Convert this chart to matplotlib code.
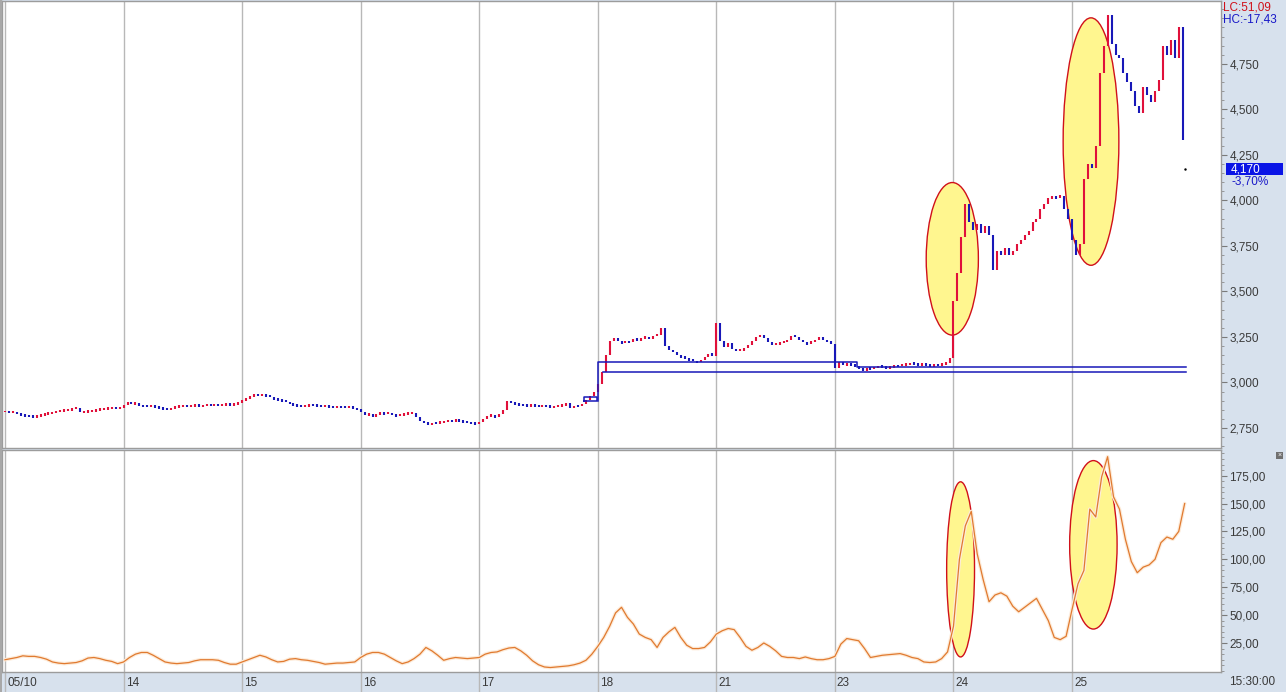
import numpy as np
import matplotlib.pyplot as plt
import matplotlib.transforms as mtransforms
from matplotlib.patches import Ellipse, Rectangle
from matplotlib.ticker import MultipleLocator, FixedLocator, FuncFormatter

W, H = 1286, 692

# session labels (one unit on the x axis = one session)
day_labels = ['05/10', '14', '15', '16', '17', '18', '21', '23', '24', '25']
bars_per_day = 30
osc_per_day = 20

# closing prices, 30 bars per session
close_0510 = [2840, 2835, 2838, 2830, 2822, 2818, 2815, 2812, 2818, 2822, 2828, 2832, 2835, 2840, 2845,
              2848, 2850, 2855, 2862, 2835, 2838, 2842, 2845, 2850, 2855, 2856, 2858, 2860, 2858, 2862]
close_14 = [2875, 2895, 2882, 2885, 2872, 2870, 2868, 2872, 2866, 2860, 2855, 2852, 2860, 2866, 2870,
            2872, 2868, 2872, 2875, 2870, 2873, 2876, 2874, 2878, 2875, 2878, 2880, 2876, 2882, 2885]
close_15 = [2905, 2915, 2925, 2930, 2928, 2936, 2925, 2918, 2910, 2905, 2900, 2895, 2885, 2875, 2870,
            2868, 2872, 2876, 2874, 2870, 2868, 2872, 2866, 2865, 2868, 2864, 2862, 2866, 2860, 2852]
close_16 = [2835, 2822, 2826, 2818, 2828, 2830, 2825, 2832, 2820, 2815, 2822, 2826, 2830, 2832, 2810,
            2790, 2778, 2772, 2780, 2776, 2782, 2786, 2790, 2786, 2792, 2788, 2784, 2780, 2776, 2772]
close_17 = [2785, 2800, 2815, 2820, 2812, 2825, 2848, 2900, 2885, 2880, 2878, 2875, 2872, 2874, 2870,
            2868, 2872, 2870, 2866, 2868, 2872, 2875, 2885, 2862, 2870, 2868, 2880, 2905, 2925, 2950]
close_18 = [2990, 3060, 3150, 3230, 3245, 3225, 3215, 3230, 3222, 3240, 3235, 3245, 3250, 3238, 3255,
            3262, 3300, 3200, 3180, 3165, 3150, 3140, 3135, 3125, 3118, 3110, 3125, 3140, 3155, 3148]
close_21 = [3325, 3230, 3195, 3215, 3185, 3175, 3180, 3190, 3205, 3225, 3250, 3262, 3245, 3220, 3210,
            3212, 3215, 3222, 3235, 3255, 3248, 3232, 3220, 3212, 3225, 3235, 3242, 3235, 3225, 3210]
close_23 = [3080, 3110, 3095, 3100, 3098, 3092, 3075, 3070, 3080, 3075, 3082, 3090, 3085, 3080, 3085,
            3090, 3088, 3095, 3100, 3108, 3102, 3098, 3100, 3095, 3092, 3098, 3095, 3100, 3105, 3135]
close_24 = [3450, 3600, 3800, 3980, 3880, 3840, 3870, 3820, 3860, 3810, 3620, 3720, 3700, 3740, 3700,
            3720, 3760, 3780, 3810, 3830, 3880, 3900, 3950, 3980, 4015, 4020, 4015, 4022, 3950, 3900]
close_25 = [3780, 3700, 3760, 4120, 4200, 4180, 4300, 4700, 4850, 5020, 4860, 4800, 4780, 4700, 4650,
            4600, 4520, 4480, 4620, 4580, 4540, 4600, 4660, 4850, 4800, 4880, 4780, 4950, 4330]

last_price = 4170
last_change = '-3,70%'
lc_text = 'LC:51,09'
hc_text = 'HC:-17,43'
time_text = '15:30:00'

# lower panel indicator, 20 points per session
osc_0510 = [10, 11, 12, 13.5, 13, 13, 12, 10.5, 8, 7, 6.5, 7, 7.5, 9, 11.5, 12, 11, 9.5, 8.5, 6.5]
osc_14 = [8, 12, 15, 16.5, 16.5, 14, 11, 8, 7, 6.5, 7, 7.5, 9, 10, 10, 10, 9.5, 7.5, 6, 6]
osc_15 = [8, 10, 12, 14, 12.5, 10, 8, 8.5, 10.5, 11, 10, 9.5, 8.5, 7.5, 6, 6.5, 7, 7, 7.5, 8]
osc_16 = [12, 15, 16.5, 16.5, 15, 12, 9, 6.5, 8, 11, 15, 21, 18, 14, 9.5, 11, 12, 11.5, 11, 11.5]
osc_17 = [12, 15, 16.5, 17, 19, 20.5, 21, 18, 14, 9, 5.5, 3.5, 3, 3.5, 4, 4.5, 5.5, 7, 9.5, 15]
osc_18 = [22, 30, 40, 52, 57, 48, 42, 33, 30, 28, 21, 30, 35, 39, 30, 23, 20, 20, 21, 26]
osc_21 = [33, 36, 38, 37, 30, 22, 18.5, 21, 25, 22, 18, 13, 12, 12, 11, 12.5, 11, 10, 10, 11]
osc_23 = [13, 24, 29, 28, 27, 20, 12, 13, 14, 14.5, 15, 15.5, 14, 12, 11, 8, 7.5, 8, 11, 17]
osc_24 = [40, 100, 130, 143, 105, 82, 62, 68, 70, 67, 58, 53, 57, 61, 65, 55, 45, 30, 28, 31]
osc_25 = [55, 78, 90, 145, 138, 174, 192, 156, 145, 118, 98, 88, 93, 95, 100, 115, 120, 118, 125, 150]

# box levels drawn on the price panel (session time, price)
small_box_t = [4.884, 4.993]
small_box_p = [2898, 2920]
upper_box_t = [5.002, 5.002, 7.186, 7.186, 9.961]
upper_box_p = [2898, 3111, 3111, 3084, 3084]
lower_line_t = [5.044, 9.961]
lower_line_p = [3057, 3057]

# highlighted regions: (time, value, width, height)
price_marks = [(7.99, 3679, 0.44, 838), (9.16, 4323, 0.47, 1359)]
osc_marks = [(8.06, 91, 0.235, 157), (9.18, 113, 0.40, 151)]

closes = np.array(close_0510 + close_14 + close_15 + close_16 + close_17 +
                  close_18 + close_21 + close_23 + close_24 + close_25, dtype=float)
osc = np.array(osc_0510 + osc_14 + osc_15 + osc_16 + osc_17 +
               osc_18 + osc_21 + osc_23 + osc_24 + osc_25, dtype=float)

RED = '#e0103a'
BLUE = '#1818b8'
GRID = '#b8b8b8'
STRIP = '#d7e1ed'
BORDER = '#9c9c9c'
TXT = '#3a3a3a'

plt.rcParams['font.family'] = ['Liberation Sans', 'DejaVu Sans']

fig = plt.figure(figsize=(W / 100, H / 100), dpi=100)
fig.patch.set_facecolor(STRIP)

ax1 = fig.add_axes([2 / W, 1 - 448 / H, 1219 / W, 447 / H])
ax2 = fig.add_axes([2 / W, 1 - 672 / H, 1219 / W, 222 / H])

xlim = (-3 / 118.56, 1216 / 118.56)
for ax in (ax1, ax2):
    ax.set_facecolor('white')
    ax.set_xlim(*xlim)
    for s in ax.spines.values():
        s.set_color(BORDER)
        s.set_linewidth(1)
    for d in range(len(day_labels)):
        ax.axvline(d, color=GRID, lw=1, zorder=1)
    ax.yaxis.tick_right()
    ax.tick_params(axis='y', which='major', length=4, width=0.8, color='#7a7a7a',
                   labelsize=8.5, labelcolor=TXT, pad=2)
    ax.tick_params(axis='y', which='minor', length=2.5, width=0.6, color='#8a8a8a')

# ---- price panel
ax1.set_ylim(2640, 5095)
ax1.yaxis.set_major_locator(FixedLocator(np.arange(2750, 4751, 250)))
ax1.yaxis.set_minor_locator(MultipleLocator(50))
ax1.yaxis.set_major_formatter(FuncFormatter(lambda v, p: f'{v:,.0f}'))
ax1.set_xticks([])

xb = np.arange(len(closes)) / bars_per_day
prev = np.r_[closes[0], closes[:-1]]
lo = np.minimum(prev, closes)
hi = np.maximum(prev, closes)
hi = np.where(hi - lo < 8, hi + 5, hi)
lo = np.where(hi - lo < 12, lo - 5, lo)
cols = np.where(closes >= prev, RED, BLUE)
ax1.vlines(xb, lo, hi, colors=cols, lw=1.5, zorder=3)
ax1.plot([xb[-1] + 0.02], [last_price], 'k.', ms=1.5, zorder=3)

ax1.plot([small_box_t[0], small_box_t[1], small_box_t[1], small_box_t[0], small_box_t[0]],
         [small_box_p[0], small_box_p[0], small_box_p[1], small_box_p[1], small_box_p[0]],
         color=BLUE, lw=1.1, zorder=4)
ax1.plot(upper_box_t, upper_box_p, color=BLUE, lw=1.1, zorder=4)
ax1.plot(lower_line_t, lower_line_p, color=BLUE, lw=1.1, zorder=4)

for cx, cy, w, h in price_marks:
    ax1.add_patch(Ellipse((cx, cy), w, h, facecolor='#fff68f', edgecolor='#d0101a',
                          lw=1.0, zorder=2))

# current price box on the right axis
tr = mtransforms.blended_transform_factory(ax1.transAxes, ax1.transData)
ax1.add_patch(Rectangle((1224 / 1219, last_price - 33), 57 / 1219, 66,
                        transform=tr, facecolor='#0a14e6', edgecolor='none',
                        clip_on=False, zorder=5))
ax1.text(1229 / 1219, last_price, f'{last_price:,}', transform=tr, color='white',
         fontsize=8.5, va='center', ha='left', zorder=6, clip_on=False)
ax1.text(1229 / 1219, last_price - 68, last_change, transform=tr, color='#1818c8',
         fontsize=8.5, va='center', ha='left', zorder=6, clip_on=False)

# ---- indicator panel
ax2.set_ylim(-1, 198)
ax2.yaxis.set_major_locator(FixedLocator(np.arange(25, 176, 25)))
ax2.yaxis.set_minor_locator(MultipleLocator(5))
ax2.yaxis.set_major_formatter(FuncFormatter(lambda v, p: f'{v:.2f}'.replace('.', ',')))

xo = np.arange(len(osc)) / osc_per_day
ax2.plot(xo, osc, color='#fdebd9', lw=2.6, zorder=2.5, solid_capstyle='round')
ax2.plot(xo, osc, color='#e07a30', lw=0.9, zorder=3)
for cx, cy, w, h in osc_marks:
    ax2.add_patch(Ellipse((cx, cy), w, h, facecolor='#fff68f', edgecolor='#d0101a',
                          lw=1.0, zorder=2))

ax2.set_xticks(range(len(day_labels)))
ax2.set_xticklabels([])
ax2.tick_params(axis='x', direction='out', length=14.5, width=1, color=GRID)
off = mtransforms.offset_copy(ax2.get_xaxis_transform(), fig=fig, x=2, y=0, units='dots')
for d, lab in enumerate(day_labels):
    ax2.text(d, -0.048, lab, transform=off, ha='left', va='center', fontsize=8.5,
             color=TXT, clip_on=False)

# ---- figure decorations
fig.patches.append(Rectangle((0, 0), 2 / W, 1, transform=fig.transFigure,
                             facecolor='#a8a8a8', edgecolor='none'))
fig.text(1223 / W, 1 - 8 / H, lc_text, color='#d0101a', fontsize=8.5, va='center', ha='left')
fig.text(1223 / W, 1 - 19 / H, hc_text, color='#1818c8', fontsize=8.5, va='center', ha='left')
fig.text(1229 / W, 1 - 682 / H, time_text, color=TXT, fontsize=8.5, va='center', ha='left')
fig.patches.append(Rectangle((1276 / W, 1 - 459 / H), 7 / W, 7 / H, transform=fig.transFigure,
                             facecolor='#707070', edgecolor='none'))
fig.text(1279.5 / W, 1 - 455.5 / H, '×', color='white', fontsize=5, va='center', ha='center')

fig.savefig('out.png', dpi=100, facecolor=fig.get_facecolor())
